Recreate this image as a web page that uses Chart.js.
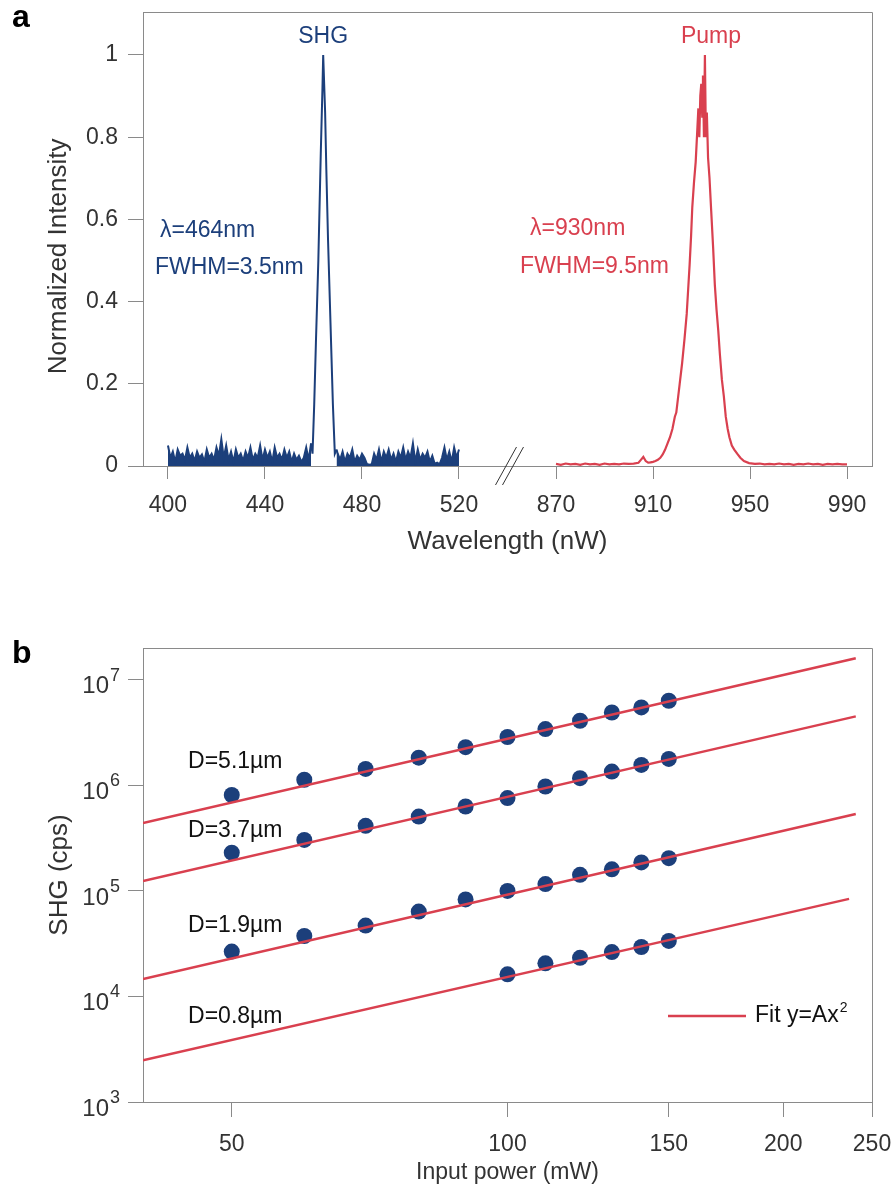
<!DOCTYPE html>
<html>
<head>
<meta charset="utf-8">
<script src="https://cdn.jsdelivr.net/npm/chart.js@4.4.0/dist/chart.umd.min.js"></script>
<style>
body { margin: 0; background: #fff; }
#wrap { position: relative; width: 891px; height: 1188px; overflow: hidden; }
canvas { position: absolute; left: 0; }
#chartA { top: 0; }
#chartB { top: 590px; }
.tag { position: absolute; font: bold 32px "Liberation Sans", Arial, sans-serif; line-height: 32px; color: #000; }
</style>
</head>
<body>
<div id="wrap">
  <canvas id="chartA" width="891" height="590"></canvas>
  <canvas id="chartB" width="891" height="598"></canvas>
  <div class="tag" style="left:12px; top:0px">a</div>
  <div class="tag" style="left:12px; top:636px">b</div>
</div>
<script>
// ---- panel a: spectra ----
const shgWavelength = [400, 401, 402, 403, 404, 405, 406, 407, 408, 409, 410, 411, 412, 413, 414, 415, 416, 417, 418, 419,
  420, 421, 422, 423, 424, 425, 426, 427, 428, 429, 430, 431, 432, 433, 434, 435, 436, 437, 438, 439,
  440, 441, 442, 443, 444, 445, 446, 447, 448, 449, 450, 451, 452, 453, 454, 455, 456, 457, 458, 459,
  459.6, 460.3, 461, 462, 463, 463.7, 464, 464.4, 464.8, 465.3, 466, 467, 468, 468.8, 469.5,
  470, 471, 472, 473, 474, 475, 476, 477, 478, 479, 480, 481, 482, 483, 484, 485, 486, 487, 488, 489,
  490, 491, 492, 493, 494, 495, 496, 497, 498, 499, 500, 501, 502, 503, 504, 505, 506, 507, 508, 509,
  510, 511, 512, 513, 514, 515, 516, 517, 518, 519, 520];
const shgIntensity = [0.05, 0.02, 0.035, 0.01, 0.04, 0.025, 0.03, 0.015, 0.045, 0.02, 0.03, 0.012, 0.035, 0.02, 0.028, 0.01, 0.04, 0.02, 0.03, 0.015,
  0.045, 0.025, 0.065, 0.02, 0.05, 0.015, 0.035, 0.01, 0.04, 0.02, 0.03, 0.012, 0.035, 0.02, 0.045, 0.015, 0.03, 0.02, 0.05, 0.015,
  0.04, 0.02, 0.035, 0.01, 0.045, 0.02, 0.03, 0.015, 0.04, 0.02, 0.035, 0.01, 0.03, 0.015, 0.025, 0.01, 0.02, 0.045, 0.015, 0.055,
  0.03, 0.15, 0.3, 0.5, 0.76, 0.92, 1.0, 0.93, 0.86, 0.72, 0.55, 0.35, 0.15, 0.03, 0.04,
  0.03, 0.015, 0.035, 0.01, 0.03, 0.02, 0.04, 0.01, 0.025, 0.015, 0.03, 0.02, 0.005, 0.003, 0.004, 0.03, 0.015, 0.04, 0.01, 0.035,
  0.02, 0.04, 0.015, 0.03, 0.01, 0.035, 0.02, 0.045, 0.015, 0.035, 0.02, 0.055, 0.01, 0.04, 0.015, 0.03, 0.02, 0.035, 0.01, 0.025,
  0.005, 0.008, 0.004, 0.02, 0.045, 0.015, 0.035, 0.01, 0.045, 0.02, 0.04];
const pumpWavelength = [870, 872, 874, 876, 878, 880, 882, 884, 886, 888, 890, 892, 894, 896, 898, 900, 902, 904, 905, 906,
  907, 908, 909, 910, 911, 912, 913, 914, 915, 916, 917, 918, 919, 919.6, 920, 921, 922, 923, 923.9, 924.5,
  925.1, 925.7, 926.2, 926.9, 927.6, 928.2, 928.7, 929.1, 929.5, 929.9, 930.3, 930.6, 931, 931.4, 931.8, 932.2, 932.7, 933.3, 934, 934.8,
  935.5, 936.2, 936.9, 937.6, 938.4, 939.2, 940, 940.8, 941.5, 942.5, 943.5, 944.7, 946, 947.5, 949.6, 952, 954, 956, 958, 960,
  962, 964, 966, 968, 970, 972, 974, 976, 978, 980, 982, 984, 986, 988, 990];
const pumpIntensity = [0.005, 0.003, 0.006, 0.004, 0.005, 0.003, 0.006, 0.004, 0.005, 0.003, 0.006, 0.004, 0.005, 0.004, 0.006, 0.005, 0.006, 0.008, 0.015, 0.022,
  0.012, 0.008, 0.009, 0.01, 0.012, 0.015, 0.02, 0.028, 0.04, 0.055, 0.07, 0.09, 0.12, 0.13, 0.15, 0.2, 0.25, 0.31, 0.37, 0.43,
  0.49, 0.56, 0.63, 0.69, 0.74, 0.81, 0.87, 0.8, 0.9, 0.93, 0.85, 0.95, 0.8, 1.0, 0.8, 0.86, 0.75, 0.7, 0.62, 0.53,
  0.44, 0.38, 0.33, 0.27, 0.21, 0.17, 0.12, 0.09, 0.07, 0.05, 0.04, 0.03, 0.02, 0.012, 0.007, 0.005, 0.006, 0.004, 0.005, 0.004,
  0.006, 0.004, 0.005, 0.003, 0.005, 0.004, 0.006, 0.004, 0.005, 0.003, 0.005, 0.004, 0.005, 0.004, 0.004];
const xTicksA = [400, 440, 480, 520, 870, 910, 950, 990];
const yTicksA = [0, 0.2, 0.4, 0.6, 0.8, 1];
const breakShift = 310; // the 870-990 part is drawn right after 520, shifted by this

// ---- panel b: SHG vs power ----
const powerMw = [50, 60, 70, 80, 90, 100, 110, 120, 130, 140, 150];
const shgD51 = [8.1e5, 1.13e6, 1.43e6, 1.83e6, 2.3e6, 2.87e6, 3.41e6, 4.09e6, 4.9e6, 5.47e6, 6.33e6];
const shgD37 = [2.3e5, 3.04e5, 4.13e5, 5.06e5, 6.3e5, 7.57e5, 9.75e5, 1.17e6, 1.35e6, 1.56e6, 1.78e6];
const shgD19 = [2.66e4, 3.74e4, 4.69e4, 6.37e4, 8.3e4, 1.0e5, 1.16e5, 1.42e5, 1.6e5, 1.86e5, 2.04e5];
const powerMwD08 = [100, 110, 120, 130, 140, 150];
const shgD08 = [1.62e4, 2.06e4, 2.32e4, 2.63e4, 2.94e4, 3.36e4];
const fitPower = [40, 240];
const fitPowerD08 = [40, 236];
const fitD51 = [4.4e5, 1.6e7];
const fitD37 = [1.24e5, 4.5e6];
const fitD19 = [1.46e4, 5.35e5];
const fitD08 = [2.48e3, 8.4e4];
const xTicksB = [50, 100, 150, 200, 250];
const yTicksB = [1e3, 1e4, 1e5, 1e6, 1e7];

const navy = '#1c3f7b';
const red = '#d9404f';
const axisGray = '#8a8a8a';
const fontFamily = '"Liberation Sans", Arial, Helvetica, sans-serif';

Chart.defaults.font.family = fontFamily;
Chart.defaults.color = '#333333';

function pairs(xs, ys, shift) {
    return xs.map((x, i) => ({ x: x - (shift || 0), y: ys[i] }));
}

function drawBox(chart) {
    const { ctx, chartArea: a } = chart;
    ctx.save();
    ctx.strokeStyle = axisGray;
    ctx.lineWidth = 1;
    ctx.beginPath();
    ctx.moveTo(Math.round(a.left) + 0.5, Math.round(a.top) + 0.5);
    ctx.lineTo(Math.round(a.right) + 0.5, Math.round(a.top) + 0.5);
    ctx.lineTo(Math.round(a.right) + 0.5, Math.round(a.bottom) + 0.5);
    ctx.stroke();
    ctx.restore();
}

// no extra room for overhanging end labels: the plot box is fixed by layout padding
function noHangX(s) { s.paddingLeft = 0; s.paddingRight = 0; }
function noHangY(s) { s.paddingTop = 0; s.paddingBottom = 0; }

// text notes for panel a, placed in data units
const notesA = [
    { text: 'SHG', x: 464, y: 1.045, color: navy, align: 'center' },
    { text: 'Pump', x: 933.9 - breakShift, y: 1.045, color: red, align: 'center' },
    { text: 'λ=464nm', x: 396.7, y: 0.572, color: navy, align: 'left' },
    { text: 'FWHM=3.5nm', x: 394.6, y: 0.482, color: navy, align: 'left' },
    { text: 'λ=930nm', x: 549.3, y: 0.577, color: red, align: 'left' },
    { text: 'FWHM=9.5nm', x: 545.2, y: 0.484, color: red, align: 'left' }
];

const panelAExtras = {
    id: 'panelAExtras',
    afterDraw(chart) {
        const { ctx, scales: { x, y } } = chart;
        drawBox(chart);
        ctx.save();
        ctx.font = '23px ' + fontFamily;
        ctx.textBaseline = 'middle';
        notesA.forEach(n => {
            ctx.fillStyle = n.color;
            ctx.textAlign = n.align;
            ctx.fillText(n.text, x.getPixelForValue(n.x), y.getPixelForValue(n.y));
        });
        // y axis title, sits a little below the middle of the axis
        ctx.fillStyle = '#333';
        ctx.textAlign = 'center';
        ctx.font = '26px ' + fontFamily;
        ctx.translate(59, y.getPixelForValue(0.51));
        ctx.rotate(-Math.PI / 2);
        ctx.fillText('Normalized Intensity', 0, 0);
        ctx.setTransform(1, 0, 0, 1, 0, 0);
        // axis break mark
        const bx = x.getPixelForValue(540);
        const by = y.getPixelForValue(0);
        ctx.strokeStyle = '#333';
        ctx.lineWidth = 1;
        [-4, 3].forEach(dx => {
            ctx.beginPath();
            ctx.moveTo(bx + dx - 8, by + 19);
            ctx.lineTo(bx + dx + 13, by - 19);
            ctx.stroke();
        });
        ctx.restore();
    }
};

new Chart(document.getElementById('chartA'), {
    type: 'line',
    data: {
        datasets: [{
            label: 'SHG',
            data: pairs(shgWavelength, shgIntensity),
            borderColor: navy,
            backgroundColor: navy,
            borderWidth: 2,
            pointRadius: 0,
            fill: 'origin',
            segment: {
                backgroundColor: c => (c.p0.parsed.x >= 459 && c.p1.parsed.x <= 469.5) ? 'rgba(0,0,0,0)' : navy
            }
        }, {
            label: 'Pump',
            data: pairs(pumpWavelength, pumpIntensity, breakShift),
            borderColor: red,
            borderWidth: 2.2,
            pointRadius: 0,
            fill: false
        }]
    },
    options: {
        responsive: false,
        animation: false,
        layout: { padding: { top: 12, right: 19, left: 0, bottom: 0 } },
        plugins: { legend: { display: false }, tooltip: { enabled: false } },
        scales: {
            x: {
                type: 'linear',
                min: 389.7,
                max: 690.3,
                afterBuildTicks: s => { s.ticks = xTicksA.map(v => ({ value: v > 600 ? v - breakShift : v })); },
                afterFit: s => { s.height = 124; noHangX(s); },
                grid: { drawOnChartArea: false, tickLength: 13, color: axisGray },
                border: { color: axisGray },
                ticks: { font: { size: 23 }, padding: 13, maxRotation: 0, callback: v => (v >= 560 ? v + breakShift : v) },
                title: { display: true, text: 'Wavelength (nW)', font: { size: 26 }, padding: { bottom: 33 } }
            },
            y: {
                min: 0,
                max: 1.1046,
                afterBuildTicks: s => { s.ticks = yTicksA.map(v => ({ value: v })); },
                afterFit: s => { s.width = 143; noHangY(s); },
                grid: { drawOnChartArea: false, tickLength: 15, color: axisGray },
                border: { color: axisGray },
                ticks: { font: { size: 23 }, padding: 10, callback: v => String(Math.round(v * 10) / 10) }
            }
        }
    },
    plugins: [panelAExtras]
});

// labels for panel b curves, placed in data units
const notesB = [
    { text: 'D=5.1µm', x: 44.8, y: 1.68e6 },
    { text: 'D=3.7µm', x: 44.8, y: 3.74e5 },
    { text: 'D=1.9µm', x: 44.8, y: 4.72e4 },
    { text: 'D=0.8µm', x: 44.8, y: 6.49e3 }
];

const panelBExtras = {
    id: 'panelBExtras',
    afterDraw(chart) {
        const { ctx, chartArea: a, scales: { x, y } } = chart;
        drawBox(chart);
        ctx.save();
        // y tick labels with exponents
        ctx.fillStyle = '#333';
        yTicksB.forEach(v => {
            const py = y.getPixelForValue(v);
            ctx.font = '24px ' + fontFamily;
            ctx.textAlign = 'right';
            ctx.textBaseline = 'middle';
            ctx.fillText('10', a.left - 34, py + 7);
            ctx.font = '18px ' + fontFamily;
            ctx.textAlign = 'left';
            ctx.fillText(String(Math.round(Math.log10(v))), a.left - 33, py - 4);
        });
        // curve labels
        ctx.fillStyle = '#111';
        ctx.font = '23px ' + fontFamily;
        ctx.textAlign = 'left';
        notesB.forEach(n => ctx.fillText(n.text, x.getPixelForValue(n.x), y.getPixelForValue(n.y)));
        // legend
        const ly = a.bottom - 86;
        ctx.strokeStyle = red;
        ctx.lineWidth = 2.5;
        ctx.beginPath();
        ctx.moveTo(a.right - 204, ly);
        ctx.lineTo(a.right - 126, ly);
        ctx.stroke();
        ctx.fillStyle = '#111';
        ctx.font = '23px ' + fontFamily;
        ctx.fillText('Fit y=Ax', a.right - 117, ly);
        const w = ctx.measureText('Fit y=Ax').width;
        ctx.font = '14px ' + fontFamily;
        ctx.fillText('2', a.right - 116 + w, ly - 8);
        ctx.restore();
    }
};

function dots(xs, ys) {
    return { data: pairs(xs, ys), backgroundColor: navy, borderWidth: 0, pointRadius: 8, order: 2 };
}
function fit(xs, ys) {
    return { data: pairs(xs, ys), showLine: true, borderColor: red, borderWidth: 2.5, pointRadius: 0, order: 1 };
}

new Chart(document.getElementById('chartB'), {
    type: 'scatter',
    data: {
        datasets: [
            dots(powerMw, shgD51), dots(powerMw, shgD37), dots(powerMw, shgD19), dots(powerMwD08, shgD08),
            fit(fitPower, fitD51), fit(fitPower, fitD37), fit(fitPower, fitD19), fit(fitPowerD08, fitD08)
        ]
    },
    options: {
        responsive: false,
        animation: false,
        layout: { padding: { top: 58, right: 19, left: 0, bottom: 0 } },
        plugins: { legend: { display: false }, tooltip: { enabled: false } },
        scales: {
            x: {
                type: 'logarithmic',
                min: 40,
                max: 250,
                afterBuildTicks: s => { s.ticks = xTicksB.map(v => ({ value: v })); },
                afterFit: s => { s.height = 86; noHangX(s); },
                grid: { drawOnChartArea: false, tickLength: 15, color: axisGray },
                border: { color: axisGray },
                ticks: { font: { size: 23 }, padding: 14, maxRotation: 0, callback: v => String(v) },
                title: { display: true, text: 'Input power (mW)', font: { size: 23 }, padding: { bottom: 2 } }
            },
            y: {
                type: 'logarithmic',
                min: 1000,
                max: 2e7,
                afterBuildTicks: s => { s.ticks = yTicksB.map(v => ({ value: v })); },
                afterFit: s => { s.width = 143; noHangY(s); },
                grid: { drawOnChartArea: false, tickLength: 15, color: axisGray },
                border: { color: axisGray },
                ticks: { callback: () => '' },
                title: { display: true, text: 'SHG (cps)', font: { size: 26 }, padding: { top: 44 } }
            }
        }
    },
    plugins: [panelBExtras]
});
</script>
</body>
</html>
